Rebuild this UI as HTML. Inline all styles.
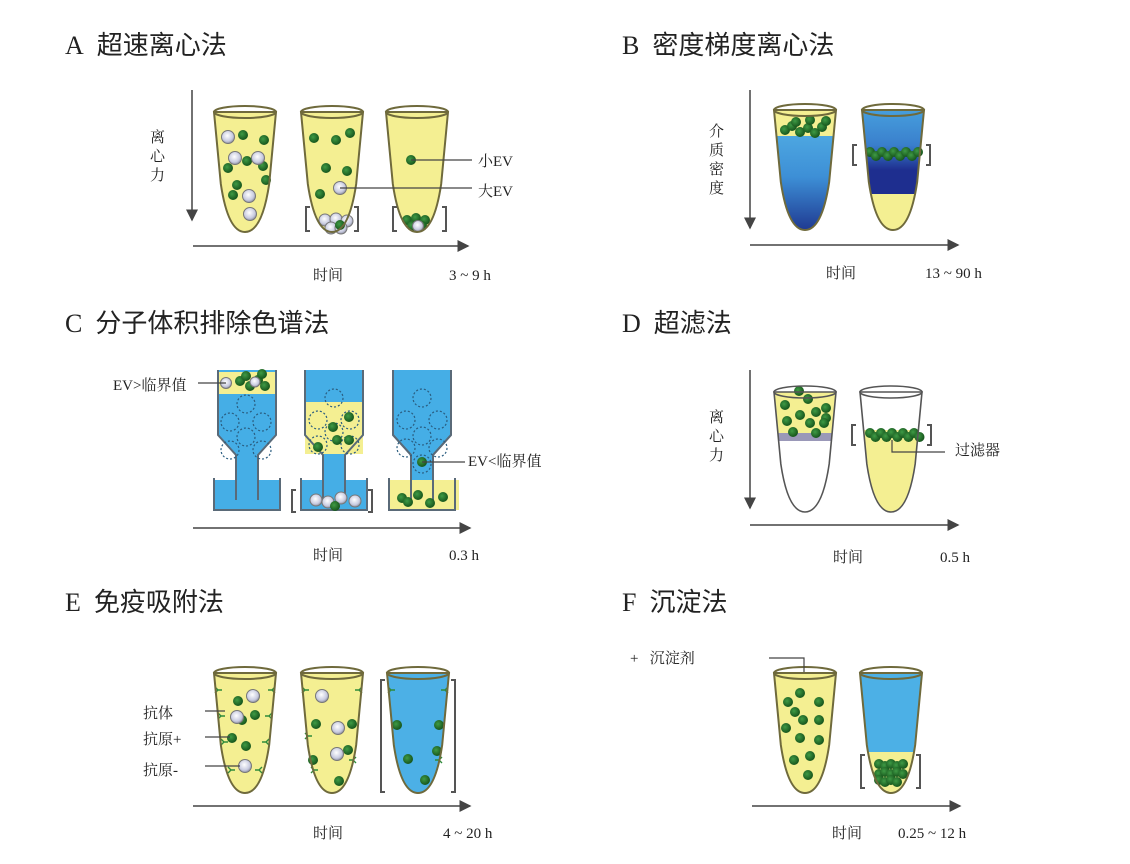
<!DOCTYPE html>
<html><head><meta charset="utf-8">
<style>
body{margin:0;background:#fff;width:1130px;height:864px;overflow:hidden;font-family:"Liberation Serif","Noto Serif CJK SC",serif;}
svg{position:absolute;left:0;top:0}
.t{font-size:26px;fill:#222;font-family:"Liberation Serif","Noto Sans CJK SC",serif}
.l{font-size:15px;fill:#222;font-family:"Liberation Serif","Noto Serif CJK SC",serif}
</style></head><body>
<svg id="s" width="1130" height="864" xmlns="http://www.w3.org/2000/svg">
<defs>
<linearGradient id="bl" x1="0" y1="0" x2="0" y2="1"><stop offset="0" stop-color="#5bbbea"/><stop offset="0.55" stop-color="#3d8fd6"/><stop offset="1" stop-color="#1a2a85"/></linearGradient>
<linearGradient id="bl2" x1="0" y1="0" x2="0" y2="1"><stop offset="0" stop-color="#4aa8e2"/><stop offset="0.45" stop-color="#3a7fcc"/><stop offset="0.7" stop-color="#1e2e8f"/></linearGradient>
<radialGradient id="gb" cx="0.4" cy="0.4" r="0.6"><stop offset="0" stop-color="#3f9a45"/><stop offset="1" stop-color="#17561c"/></radialGradient>
<radialGradient id="wb" cx="0.45" cy="0.4" r="0.6"><stop offset="0" stop-color="#ffffff"/><stop offset="0.7" stop-color="#c8cbe0"/><stop offset="1" stop-color="#8d8fa0"/></radialGradient>
<marker id="ar" markerWidth="8" markerHeight="8" refX="7" refY="4" orient="auto"><path d="M0,0 L8,4 L0,8 Z" fill="#444"/></marker>
</defs>
<g id="g"></g>
<text class="t" x="65" y="54">A&#160;&#160;超速离心法</text>
<text class="t" x="622" y="54">B&#160;&#160;密度梯度离心法</text>
<text class="t" x="65" y="332">C&#160;&#160;分子体积排除色谱法</text>
<text class="t" x="622" y="332">D&#160;&#160;超滤法</text>
<text class="t" x="65" y="611">E&#160;&#160;免疫吸附法</text>
<text class="t" x="622" y="611">F&#160;&#160;沉淀法</text>
<text class="l" x="150" y="142">离</text><text class="l" x="150" y="161">心</text><text class="l" x="150" y="180">力</text>
<text class="l" x="478" y="166">小EV</text><text class="l" x="478" y="196">大EV</text>
<text class="l" x="313" y="280">时间</text><text class="l" x="449" y="280">3 ~ 9 h</text>
<text class="l" x="709" y="136">介</text><text class="l" x="709" y="155">质</text><text class="l" x="709" y="174">密</text><text class="l" x="709" y="193">度</text>
<text class="l" x="826" y="278">时间</text><text class="l" x="925" y="278">13 ~ 90 h</text>
<text class="l" x="113" y="390">EV&gt;临界值</text>
<text class="l" x="468" y="466">EV&lt;临界值</text>
<text class="l" x="313" y="560">时间</text><text class="l" x="449" y="560">0.3 h</text>
<text class="l" x="709" y="422">离</text><text class="l" x="709" y="441">心</text><text class="l" x="709" y="460">力</text>
<text class="l" x="955" y="455">过滤器</text>
<text class="l" x="833" y="562">时间</text><text class="l" x="940" y="562">0.5 h</text>
<text class="l" x="143" y="718">抗体</text><text class="l" x="143" y="744">抗原+</text><text class="l" x="143" y="775">抗原-</text>
<text class="l" x="313" y="838">时间</text><text class="l" x="443" y="838">4 ~ 20 h</text>
<text class="l" x="630" y="663">+&#160;&#160;&#160;沉淀剂</text>
<text class="l" x="832" y="838">时间</text><text class="l" x="898" y="838">0.25 ~ 12 h</text>
</svg>
<script>
var g=document.getElementById('g'),NS='http://www.w3.org/2000/svg';
function el(t,a){var e=document.createElementNS(NS,t);for(var k in a)e.setAttribute(k,a[k]);g.appendChild(e);return e;}
function tp(cx,t,w,h){return 'M'+(cx-w)+','+t+' L'+(cx-w*0.78)+','+(t+h*0.6)+' Q'+(cx-w*0.55)+','+(t+h)+' '+cx+','+(t+h)+' Q'+(cx+w*0.55)+','+(t+h)+' '+(cx+w*0.78)+','+(t+h*0.6)+' L'+(cx+w)+','+t+' Z';}
var OL='#6f6a3c',Y='#f4ef92';
function tube(cx,t,fill){el('path',{d:tp(cx,t,31,120),fill:fill,stroke:'none'});}
function outline(cx,t){el('path',{d:tp(cx,t,31,120),fill:'none',stroke:OL,'stroke-width':2});el('ellipse',{cx:cx,cy:t,rx:31,ry:6,fill:'none',stroke:OL,'stroke-width':2});}
function gb(x,y,r){el('circle',{cx:x,cy:y,r:r||5,fill:'url(#gb)'});}
function wb(x,y,r){el('circle',{cx:x,cy:y,r:r||6.5,fill:'url(#wb)',stroke:'#777','stroke-width':1});}
function line(x1,y1,x2,y2,c,w,m){var e=el('line',{x1:x1,y1:y1,x2:x2,y2:y2,stroke:c||'#444','stroke-width':w||1.5});if(m)e.setAttribute('marker-end','url(#ar)');return e;}
function br(x,y,h,dir){el('path',{d:'M'+(x+dir*4)+','+y+' L'+x+','+y+' L'+x+','+(y+h)+' L'+(x+dir*4)+','+(y+h),fill:'none',stroke:'#555','stroke-width':2});}
function clip(id,cx,t){var d=document.createElementNS(NS,'clipPath');d.id=id;var p=document.createElementNS(NS,'path');p.setAttribute('d',tp(cx,t,31,120));d.appendChild(p);g.appendChild(d);}
function rect(x,y,w,h,f,cp){var e=el('rect',{x:x,y:y,width:w,height:h,fill:f});if(cp)e.setAttribute('clip-path','url(#'+cp+')');return e;}
/* A */
line(192,90,192,220,'#444',1.5,1);line(193,246,468,246,'#444',1.5,1);
[245,332,417].forEach(function(c){tube(c,112,Y);});
[[243,135],[264,140],[247,161],[228,168],[263,166],[237,185],[266,180],[233,195]].forEach(function(p){gb(p[0],p[1]);});
[[228,137],[235,158],[258,158],[249,196],[250,214]].forEach(function(p){wb(p[0],p[1]);});
[[314,138],[336,140],[350,133],[326,168],[347,171],[320,194]].forEach(function(p){gb(p[0],p[1]);});
wb(340,188);wb(325,220,6);wb(336,219,6);wb(347,221,6);wb(331,228,6);wb(341,228,6);gb(340,225);
gb(411,160);gb(407,220);gb(416,218);gb(425,220);gb(412,226);gb(422,226);wb(418,226,5.5);
[245,332,417].forEach(function(c){outline(c,112);});
line(411,160,472,160,'#444',1.2);line(340,188,472,188,'#444',1.2);
br(306,207,24,1);br(358,207,24,-1);br(393,207,24,1);br(446,207,24,-1);
/* B */
line(750,90,750,228,'#444',1.5,1);line(750,245,958,245,'#444',1.5,1);
clip('cb1',805,110);clip('cb2',893,110);
rect(770,100,80,140,'url(#bl)','cb1');rect(770,100,80,36,Y,'cb1');
rect(858,100,80,100,'url(#bl2)','cb2');rect(858,194,80,50,Y,'cb2');
[[785,130],[792,126],[800,132],[808,128],[815,133],[822,127],[796,122],[810,120],[826,121]].forEach(function(p){gb(p[0],p[1]);});
for(var i=0;i<9;i++){gb(870+i*6,152+(i%2)*4);}
outline(805,110);outline(893,110);
br(853,145,20,1);br(930,145,20,-1);
/* C */
line(193,528,470,528,'#444',1.5,1);
function col(x,yBand,basinFill){
 var w=58,nx=x+18,nw=22;
 var body='M'+x+',370 L'+x+',435 L'+nx+',455 L'+nx+',505 L'+(nx+nw)+',505 L'+(nx+nw)+',455 L'+(x+w)+',435 L'+(x+w)+',370 Z';
 rect(x-4,480,w+8,30,basinFill);
 el('path',{d:body,fill:'#45aee6'});
 if(yBand)rect(x,yBand[0],w,yBand[1],Y);
 el('path',{d:'M'+x+',370 L'+x+',435 L'+nx+',455 L'+nx+',500 M'+(x+w)+',370 L'+(x+w)+',435 L'+(nx+nw)+',455 L'+(nx+nw)+',500',fill:'none',stroke:'#5a6a78','stroke-width':2});
 el('path',{d:'M'+(x-4)+',478 L'+(x-4)+',510 L'+(x+w+4)+',510 L'+(x+w+4)+',478',fill:'none',stroke:'#5a6a78','stroke-width':2});
}
col(218,[372,22],'#45aee6');col(305,[402,52],'#45aee6');col(393,null,Y);
rect(393,480,66,30,Y);
el('path',{d:'M393,370 L393,435 L411,455 L411,500 M451,370 L451,435 L433,455 L433,500',fill:'none',stroke:'#5a6a78','stroke-width':2});
el('path',{d:'M389,478 L389,510 L455,510 L455,478',fill:'none',stroke:'#5a6a78','stroke-width':2});
function dc(x,y){el('circle',{cx:x,cy:y,r:9,fill:'none',stroke:'#2a5d80','stroke-width':1.2,'stroke-dasharray':'2,2'});}
[[246,404],[230,422],[262,422],[246,437],[230,450],[262,450]].forEach(function(p){dc(p[0],p[1]);});
[[334,398],[318,420],[350,420],[334,432],[318,445],[350,445]].forEach(function(p){dc(p[0],p[1]);});
[[422,398],[406,420],[438,420],[422,436],[406,448],[438,448],[422,464]].forEach(function(p){dc(p[0],p[1]);});
[[240,381],[250,386],[258,380],[265,386],[246,376],[262,374]].forEach(function(p){gb(p[0],p[1]);});wb(226,383,5.5);wb(255,382,5);
gb(349,417);gb(333,427);gb(349,440);gb(318,447);gb(337,440);
wb(316,500,6);wb(328,502,6);wb(341,498,6);wb(355,501,6);gb(335,506);
gb(422,462);gb(402,498);gb(418,495);gb(430,503);gb(443,497);gb(408,502);
line(198,383,226,383,'#444',1.2);line(422,462,465,462,'#444',1.2);
br(292,490,22,1);br(372,490,22,-1);
/* D */
line(750,370,750,508,'#444',1.5,1);line(750,525,958,525,'#444',1.5,1);
clip('cd1',805,392);clip('cd2',891,392);
rect(770,380,80,57,Y,'cd1');rect(770,433,80,8,'#9a98b8','cd1');
rect(856,430,80,100,Y,'cd2');
[[799,391],[808,399],[785,405],[800,415],[816,412],[826,408],[826,418],[787,421],[810,423],[824,423],[793,432],[816,433]].forEach(function(p){gb(p[0],p[1]);});
for(var i=0;i<10;i++){gb(870+i*5.5,433+(i%2)*4);}
el('path',{d:tp(805,392,31,120),fill:'none',stroke:'#555','stroke-width':1.6});el('ellipse',{cx:805,cy:392,rx:31,ry:6,fill:'none',stroke:'#555','stroke-width':1.6});
el('path',{d:tp(891,392,31,120),fill:'none',stroke:'#555','stroke-width':1.6});el('ellipse',{cx:891,cy:392,rx:31,ry:6,fill:'none',stroke:'#555','stroke-width':1.6});
el('path',{d:'M892,440 L892,452 L945,452',fill:'none',stroke:'#444','stroke-width':1.2});
br(852,425,20,1);br(931,425,20,-1);
/* E */
line(193,806,470,806,'#444',1.5,1);
clip('ce3',418,673);
tube(245,673,Y);tube(332,673,Y);rect(380,660,80,140,'#4cb0e6','ce3');
[[238,701],[242,720],[232,738],[246,746],[255,715]].forEach(function(p){gb(p[0],p[1]);});
wb(253,696);wb(237,717);wb(245,766);
[[316,724],[352,724],[348,750],[313,760],[339,781]].forEach(function(p){gb(p[0],p[1]);});
wb(322,696);wb(338,728);wb(337,754);
[[397,725],[439,725],[437,751],[408,759],[425,780]].forEach(function(p){gb(p[0],p[1]);});
function y2(x,y,s){el('path',{d:'M'+x+','+y+' l'+(4*s)+',0 M'+x+','+y+' l'+(-3*s)+',-3 M'+x+','+y+' l'+(-3*s)+',3',stroke:'#2e8b3a','stroke-width':1.4,fill:'none'});}
[[218,690],[221,716],[224,742],[231,770]].forEach(function(p){y2(p[0],p[1],1);});[[272,690],[269,716],[266,742],[259,770]].forEach(function(p){y2(p[0],p[1],-1);});
[[305,690],[308,736],[314,770]].forEach(function(p){y2(p[0],p[1],1);});[[359,690],[353,760]].forEach(function(p){y2(p[0],p[1],-1);});
[[391,690]].forEach(function(p){y2(p[0],p[1],1);});[[445,690],[439,760]].forEach(function(p){y2(p[0],p[1],-1);});
outline(245,673);outline(332,673);outline(418,673);
line(205,711,225,711,'#444',1.2);line(205,737,230,737,'#444',1.2);line(205,766,240,766,'#444',1.2);
br(381,680,112,1);br(455,680,112,-1);
/* F */
line(752,806,960,806,'#444',1.5,1);
clip('cf2',891,673);
tube(805,673,Y);rect(856,660,80,140,'#4cb0e6','cf2');rect(856,752,80,50,Y,'cf2');
[[800,693],[788,702],[819,702],[795,712],[803,720],[819,720],[786,728],[800,738],[819,740],[810,756],[794,760],[808,775]].forEach(function(p){gb(p[0],p[1]);});
for(var i=0;i<14;i++){gb(879+(i%5)*6,764+Math.floor(i/5)*8+(i%2)*2,5);}
outline(805,673);outline(891,673);
el('path',{d:'M769,658 L804,658 L804,672',fill:'none',stroke:'#444','stroke-width':1.2});
br(861,755,33,1);br(920,755,33,-1);
</script>
</body></html>
